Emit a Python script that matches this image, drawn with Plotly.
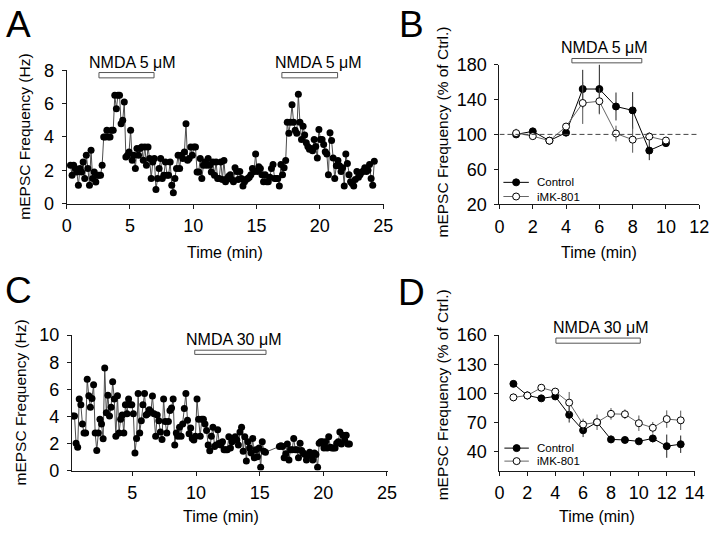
import plotly.graph_objects as go

# ---------------- DATA ----------------
# Panel A: single-cell mEPSC frequency (Hz), sampled every A_DT min from A_T0
A_T0, A_DT = 0.3, 0.125
a_freq_1 = [2.3, 1.7, 2.3, 2.1, 1.9, 1.1, 2.1, 1.9, 2.5, 1.5, 2.9, 2.1, 1.1, 3.2, 1.5, 1.9, 1.3, 1.7, 1.7, 1.7, 2.3,
            4.0, 4.0, 4.4, 4.0, 4.0, 4.4, 4.4,
            6.5, 5.7, 6.5, 6.5, 4.8, 5.0, 6.1,
            2.8, 2.9, 3.1, 4.4, 2.6,
            2.9, 2.1, 3.3, 2.9, 3.3, 3.4, 2.6, 3.4,
            2.3, 3.4, 2.7, 1.5, 2.5, 2.7,
            0.85,
            1.5, 2.1, 2.7, 1.5, 1.7, 2.5, 1.7, 1.7, 2.5, 1.1,
            0.65,
            1.5, 2.1, 2.9, 2.1, 2.9, 2.7, 3.1,
            4.8,
            2.6, 2.7, 3.4, 2.9, 3.4, 3.4, 1.9, 1.9, 2.7, 1.5, 2.3, 2.5, 2.3, 2.7, 2.3, 1.9, 2.5, 1.7, 2.5, 1.5, 1.5, 2.5]
a_freq_2 = [1.45, 2.59, 1.31, 1.50, 1.64, 1.73, 1.45, 1.31, 2.15, 1.92, 1.45, 1.92, 1.50, 1.06, 1.31, 1.45, 1.50,
            1.58, 1.73, 2.11, 1.92, 2.98, 1.92, 2.21, 2.11, 1.73, 1.31, 1.73, 1.31, 1.31, 1.58, 2.11, 2.34, 1.50,
            1.50, 1.50, 1.06, 2.34, 1.73, 2.15, 2.59,
            4.89, 4.23, 4.89, 5.94, 4.89, 4.41, 4.23, 6.56, 4.89, 3.84, 4.64, 4.12, 3.65, 3.42, 3.26, 3.30, 3.17,
            3.84, 3.42, 2.73, 4.45, 3.84, 3.84, 3.55, 3.11, 2.98, 1.73, 4.26, 3.78, 2.73, 1.50, 2.27, 2.59, 2.27,
            1.92, 2.15, 1.06, 2.98, 2.40, 1.73, 1.31, 1.20, 1.06, 1.45, 1.92, 1.58, 1.73, 1.88, 1.96, 2.15, 1.92,
            2.0, 2.34, 1.50, 1.10, 2.54]
a_freq = a_freq_1 + a_freq_2
a_time = [round(A_T0 + A_DT * i, 3) for i in range(len(a_freq))]
a_nmda = [(2.55, 6.9), (17.0, 21.4)]          # NMDA 5 uM application windows (min)

# Panel B: normalised frequency (% of Ctrl.), mean +/- SEM
b_time = [1, 2, 3, 4, 5, 6, 7, 8, 9, 10]
b_ctrl = [100, 103.5, 92.8, 102, 152, 152, 132, 127.5, 81.5, 90]
b_ctrl_err = [3, 2, 2, 4, 22, 28, 16, 21, 11, 3]
b_mk = [101.5, 98, 92.8, 109, 136, 138, 101, 94, 97.5, 93]
b_mk_err = [5, 2, 2, 3, 24, 15, 9, 15, 5, 2]
b_nmda = (4.35, 8.55)
b_baseline = 100

# Panel C: single-cell mEPSC frequency (Hz), two recording segments
C_T0_1, C_T0_2, C_DT = 0.33, 16.55, 0.125
c_freq_1 = [4.03, 4.03, 2.01, 1.73, 5.29, 4.86, 3.43, 2.77, 2.77, 6.75,
            5.52, 4.67, 5.33, 6.33, 2.77, 1.49, 2.77, 3.79, 3.43, 2.34,
            7.58, 4.27, 5.57, 4.03, 4.67, 6.56, 5.29, 2.53, 5.52, 2.77,
            3.79, 4.10, 2.77, 4.86, 4.19, 5.29, 4.86, 4.86, 4.19, 1.30,
            2.37, 5.69, 2.77, 3.67, 4.86, 5.69, 4.10, 4.19, 4.50,
            4.34, 5.50, 4.19, 2.53, 4.10, 3.67, 2.84, 2.30, 5.29,
            3.63, 2.77, 3.63, 4.43, 4.62, 5.29, 1.89, 2.77, 2.53,
            3.20, 2.53, 3.43, 4.58, 5.69, 3.72, 2.72, 3.15, 2.37, 2.25,
            2.53, 5.29, 3.79, 2.53, 3.79, 3.79, 3.43, 2.96, 1.89, 1.47,
            2.53, 3.20, 1.78, 1.89, 3.01, 2.01, 1.89, 2.13, 1.54, 1.54,
            1.54, 2.49,
            1.66, 2.13, 2.37, 2.49, 2.25, 1.89, 2.84, 3.20, 1.42, 2.49, 0.71, 2.13, 1.66, 1.30, 2.37, 0.95,
            1.54, 1.02, 1.66, 0.24, 2.13, 1.42, 1.35]
c_freq_2 = [1.78, 1.83, 1.78, 0.95, 1.25, 1.97, 0.78, 1.54, 1.54, 2.37,
            1.54, 1.54, 0.95, 2.01, 1.49, 1.30, 1.19, 0.78, 1.11, 1.35,
            1.11, 0.78, 1.30, 1.19, 0.24, 2.01, 2.13, 2.13, 1.66, 2.13,
            1.66, 2.49, 1.73, 1.66, 1.66, 1.66, 2.01, 2.13, 2.84, 1.97,
            2.61, 2.25, 2.61, 1.97, 1.97]
c_time = ([round(C_T0_1 + C_DT * i, 3) for i in range(len(c_freq_1))] +
          [round(C_T0_2 + C_DT * i, 3) for i in range(len(c_freq_2))])
c_freq = c_freq_1 + c_freq_2
c_nmda = (9.9, 15.5)

# Panel D: normalised frequency (% of Ctrl.), mean +/- SEM
d_time = [1, 2, 3, 4, 5, 6, 7, 8, 9, 10, 11, 12, 13]
d_ctrl = [109.7, 97.7, 94.7, 96.7, 77.7, 61.7, 70, 52.3, 51.7, 50.3, 53.3, 45.3, 47.3]
d_ctrl_err = [2, 2, 2, 2, 8, 7, 3, 4, 2, 2, 4, 12, 9]
d_mk = [95.7, 97.7, 105.7, 101.7, 90.3, 67.7, 70, 78.7, 78.3, 69, 64.3, 73.3, 72]
d_mk_err = [4, 4, 2, 3, 11, 6, 8, 6, 5, 8, 6, 9, 10]
d_nmda = (4.05, 10.1)

# ---------------- STYLE / LAYOUT ----------------
W, H = 720, 539
FONT = "Liberation Sans, Arial, sans-serif"
AX = "#1a1a1a"


def fx(px):
    return px / W


def fy(py):
    return 1 - py / H


fig = go.Figure()

# A
fig.add_trace(go.Scatter(x=a_time, y=a_freq, mode="lines+markers", xaxis="x", yaxis="y",
                         line=dict(color="#4d4d4d", width=1),
                         marker=dict(color="black", size=7), showlegend=False))
# C
fig.add_trace(go.Scatter(x=c_time, y=c_freq, mode="lines+markers", xaxis="x3", yaxis="y3",
                         line=dict(color="#4d4d4d", width=1),
                         marker=dict(color="black", size=7), showlegend=False))


def add_group(xs, ys, errs, xa, ya, filled):
    fig.add_trace(go.Scatter(
        x=xs, y=ys, mode="lines+markers", xaxis=xa, yaxis=ya, showlegend=False,
        line=dict(color="black" if filled else "#666666", width=1),
        marker=dict(size=7, color="black" if filled else "white",
                    line=dict(color="black", width=1)),
        error_y=dict(type="data", array=errs, visible=True, thickness=1, width=0,
                     color="#222222" if filled else "#555555")))


add_group(b_time, b_ctrl, b_ctrl_err, "x2", "y2", True)
add_group(b_time, b_mk, b_mk_err, "x2", "y2", False)
add_group(d_time, d_ctrl, d_ctrl_err, "x4", "y4", True)
add_group(d_time, d_mk, d_mk_err, "x4", "y4", False)

axis_common = dict(showline=True, linecolor=AX, linewidth=1, ticks="outside", ticklen=4,
                   tickcolor=AX, tickwidth=1, showgrid=False, zeroline=False,
                   tickfont=dict(family=FONT, size=18, color="black"))
yextra = dict(ticklabelstandoff=4)
xextra = dict(ticklabelstandoff=2)

fig.update_layout(
    width=W, height=H, margin=dict(l=0, r=0, t=0, b=0),
    paper_bgcolor="white", plot_bgcolor="white", showlegend=False,
    font=dict(family=FONT, color="black"),
    xaxis=dict(domain=[fx(63), fx(387.5)], range=[0, 25.1], tick0=0, dtick=5, anchor="y", **axis_common, **xextra),
    yaxis=dict(domain=[fy(201), fy(62.7)], range=[0, 8], tick0=0, dtick=2, anchor="x", **axis_common, **yextra),
    xaxis2=dict(domain=[fx(505), fx(709)], range=[0, 12], tick0=0, dtick=2, anchor="y2", **axis_common, **xextra),
    yaxis2=dict(domain=[fy(201.7), fy(56.7)], range=[20, 180], tick0=20, dtick=40, anchor="x2", **axis_common, **yextra),
    xaxis3=dict(domain=[fx(68.3), fx(391.4)], range=[0.25, 25.1], tick0=0, dtick=5, anchor="y3", **axis_common, **xextra),
    yaxis3=dict(domain=[fy(478.3), fy(337.7)], range=[0, 10], tick0=0, dtick=2, anchor="x3", **axis_common, **yextra),
    xaxis4=dict(domain=[fx(505), fx(704.3)], range=[0, 14], tick0=0, dtick=2, anchor="y4", **axis_common, **xextra),
    yaxis4=dict(domain=[fy(478.4), fy(337.7)], range=[20, 160], tick0=40, dtick=30, anchor="x4", **axis_common, **yextra),
)

shapes = []
annotations = []

# dashed 100% line in B
shapes.append(dict(type="line", xref="x2", yref="y2", x0=0, x1=12, y0=b_baseline, y1=b_baseline,
                   line=dict(color="#444444", width=1, dash="5px,3px")))


def dom(v, rng):
    return (v - rng[0]) / (rng[1] - rng[0])


def nmda_bar(xref, yref, rng, x0, x1, y0, y1, label, xshift):
    shapes.append(dict(type="rect", xref=xref, yref=yref + " domain", x0=x0, x1=x1,
                       y0=dom(y0, rng), y1=dom(y1, rng), fillcolor="white",
                       line=dict(color="#555555", width=1), layer="above"))
    annotations.append(dict(text=label, xref=xref, yref=yref + " domain", x=(x0 + x1) / 2,
                            y=dom(y1, rng), xanchor="center", yanchor="bottom", xshift=xshift,
                            showarrow=False, font=dict(family=FONT, size=16, color="black")))


nmda_bar("x", "y", [0, 8], a_nmda[0][0], a_nmda[0][1], 7.55, 7.87, "NMDA 5 μM", 6)
nmda_bar("x", "y", [0, 8], a_nmda[1][0], a_nmda[1][1], 7.55, 7.87, "NMDA 5 μM", 9)
nmda_bar("x2", "y2", [20, 180], b_nmda[0], b_nmda[1], 182, 187, "NMDA 5 μM", -2)
nmda_bar("x3", "y3", [0, 10], c_nmda[0], c_nmda[1], 8.58, 8.89, "NMDA 30 μM", 3)
nmda_bar("x4", "y4", [20, 160], d_nmda[0], d_nmda[1], 151.7, 157, "NMDA 30 μM", 2)


def ptext(text, x, y, size, angle=0, xanchor="center"):
    annotations.append(dict(text=text, xref="paper", yref="paper", x=fx(x), y=fy(y),
                            xanchor=xanchor, yanchor="middle", textangle=angle, showarrow=False,
                            font=dict(family=FONT, size=size, color="black")))


# panel letters
ptext("A", 14, 15, 37)
ptext("B", 415, 15, 37)
ptext("C", 14, 291, 37)
ptext("D", 415, 293, 37)

# axis titles
ptext("mEPSC Frequency (Hz)", 20, 132, 15.5, -90)
ptext("mEPSC Frequency (% of Ctrl.)", 446.5, 127, 15.5, -90)
ptext("mEPSC Frequency (Hz)", 16, 408, 15.5, -90)
ptext("mEPSC Frequency (% of Ctrl.)", 446.5, 400, 15.5, -90)
ptext("Time (min)", 225, 251.5, 16)
ptext("Time (min)", 607, 251.5, 16)
ptext("Time (min)", 220.5, 526.5, 16)
ptext("Time (min)", 605, 526.5, 16)


def legend_row(x_line0, x_line1, y, filled, label):
    shapes.append(dict(type="line", xref="paper", yref="paper", x0=fx(x_line0), x1=fx(x_line1),
                       y0=fy(y), y1=fy(y),
                       line=dict(color="black" if filled else "#666666", width=1)))
    shapes.append(dict(type="circle", xref="paper", yref="paper", xsizemode="pixel", ysizemode="pixel",
                       xanchor=fx((x_line0 + x_line1) / 2), yanchor=fy(y), x0=-3.5, x1=3.5, y0=-3.5, y1=3.5,
                       fillcolor="black" if filled else "white", line=dict(color="black", width=1)))
    ptext(label, x_line1 + 6.5, y, 11.5, xanchor="left")


legend_row(509, 535, 179, True, "Control")
legend_row(509, 535, 193.7, False, "iMK-801")
legend_row(510, 535, 455, True, "Control")
legend_row(510, 535, 468.5, False, "iMK-801")

fig.update_layout(shapes=shapes, annotations=annotations)
fig.write_html("out.html", config={"displayModeBar": False},
               post_script="document.body.style.margin='0px';")
